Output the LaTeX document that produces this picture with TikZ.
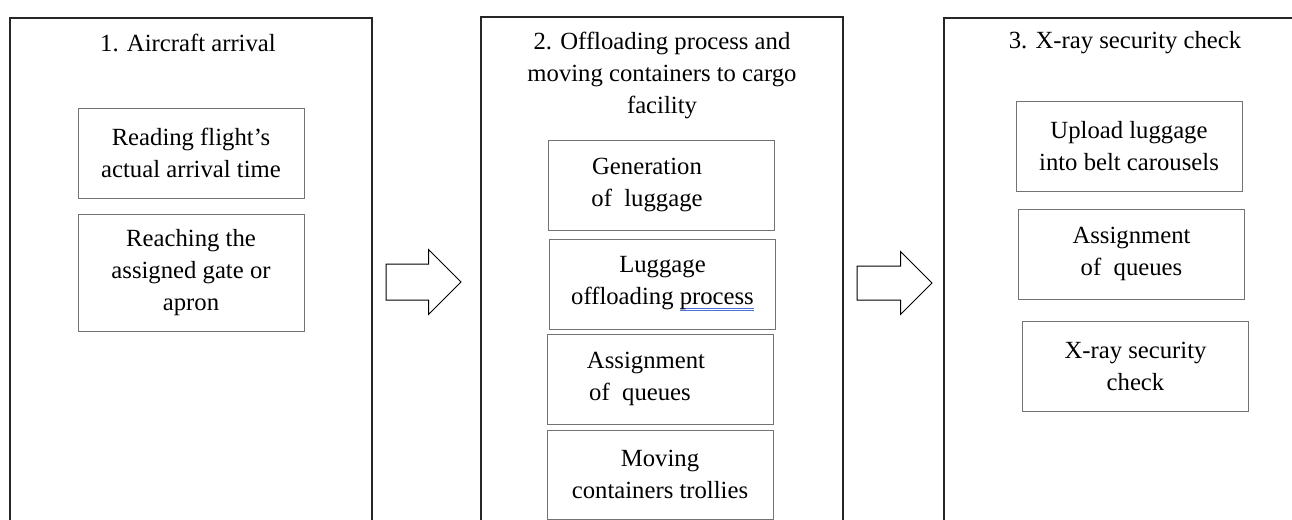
\documentclass[tikz,border=0pt]{standalone}
\usepackage{fontspec}
\setmainfont{Liberation Serif}
\usetikzlibrary{positioning}
\usetikzlibrary{shapes.arrows}
\definecolor{spellblue}{RGB}{75,115,215}
\newcommand{\spellmark}[1]{{\setbox0\hbox{#1}%
	\rlap{\color{spellblue}\rule[-2.2pt]{\wd0}{0.45pt}}%
	\rlap{\color{spellblue}\rule[-3.1pt]{\wd0}{0.45pt}}\box0}}

\begin{document}
\begin{tikzpicture}[x=0.5pt,y=0.5pt,
	every node/.style={font=\fontsize{12.35}{16}\selectfont},
	stage/.style={draw=black!85,line width=1pt,minimum height=300pt,inner sep=0pt},
	heading/.style={align=center,inner sep=0pt},
	task/.style={draw=black!55,line width=0.5pt,align=center,minimum width=113pt,minimum height=45pt,inner sep=2pt,outer sep=0pt},
	flow/.style={draw=black,line width=0.5pt,single arrow,single arrow head extend=7.25pt,minimum height=37.5pt,minimum width=0pt,inner sep=0pt,outer sep=0pt,anchor=tip}]
	\useasboundingbox (0,0) rectangle (1292,-520);
	\clip (0,0) rectangle (1292,-520);
	% stages
	\node[stage,anchor=north,minimum width=181pt] (st1) at (191,-17) {};
	\node[stage,anchor=north,minimum width=181pt] (st2) at (662,-16) {};
	\node[stage,anchor=north west,minimum width=200pt] (st3) at (943,-17) {};
	\node[heading] (h1) at (188,-43) {1. Aircraft arrival};
	\node[heading] (h2) at (662,-75) {2. Offloading process and\\moving containers to cargo\\facility};
	\node[heading] (h3) at (1125,-43) {3. X-ray security check};
	% stage 1
	\node[task] (t1a) at (191,-153) {Reading flight’s\\actual arrival time};
	\node[task,minimum height=58.5pt] (t1b) [below=8pt of t1a] {Reaching the\\assigned gate or\\apron};
	% stage 2
	\node[task] (t2a) at (661,-185) {Generation\hspace*{14pt}\\of\ \ luggage\hspace*{14pt}};
	\node[task] (t2b) [below=4.5pt of t2a,xshift=0.75pt] {Luggage\\offloading \spellmark{process}};
	\node[task] (t2c) [below=2.5pt of t2b,xshift=-1.25pt] {Assignment\hspace*{14pt}\\of\ \ queues\hspace*{20pt}};
	\node[task,minimum height=44.5pt] (t2d) [below=3pt of t2c] {Moving\\containers trollies};
	% stage 3
	\node[task] (t3a) at (1129,-146) {Upload luggage\\into belt carousels};
	\node[task] (t3b) [below=9pt of t3a,xshift=1.25pt] {Assignment\\of\ \ queues};
	\node[task] (t3c) [below=11pt of t3b,xshift=2pt] {X-ray security\\check};
	% block arrows
	\node[flow] (go12) at (461,-282) {\rule{0pt}{17.5pt}};
	\node[flow] (go23) at (932,-283) {\rule{0pt}{16.5pt}};
\end{tikzpicture}
\end{document}
